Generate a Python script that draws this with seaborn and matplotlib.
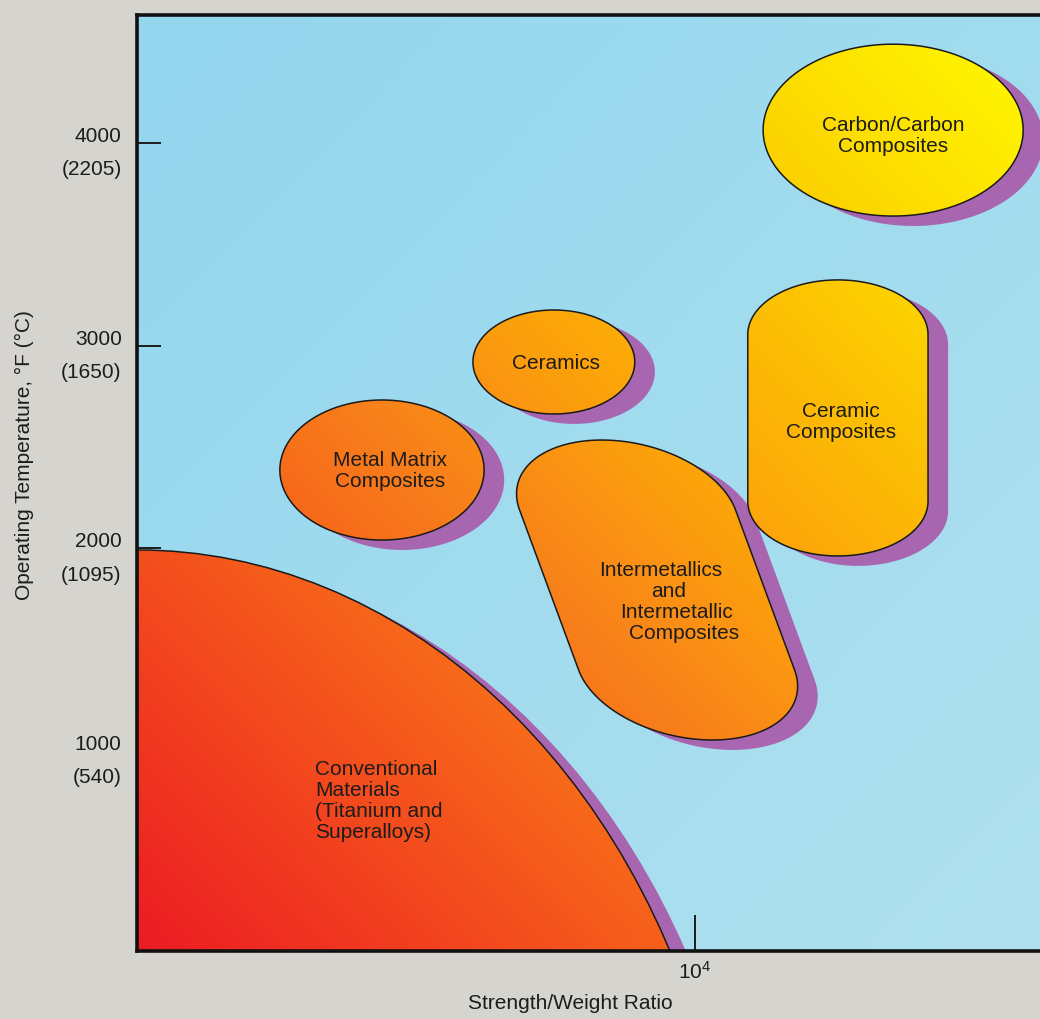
import numpy as np
import matplotlib
matplotlib.use("Agg")
import matplotlib.pyplot as plt
import seaborn as sns
from matplotlib.path import Path
from matplotlib.patches import PathPatch
from matplotlib.colors import LinearSegmentedColormap
from matplotlib.transforms import ScaledTranslation

# material regions; x = log10(strength/weight ratio), y = operating temperature in F
regions = ["Conventional", "Metal Matrix", "Ceramics", "Intermetallics",
           "Ceramic Composites", "Carbon/Carbon"]
x_center = [3.000, 3.439, 3.747, 3.932, 4.256, 4.355]
y_center = [-1708, 2386, 2919, 1794, 2643, 4063]
x_width = [2.158, 0.366, 0.290, 0.387, 0.323, 0.466]
y_height = [7400, 691, 513, 1480, 1362, 848]
end_cap = [3700, 345, 256, 345, 270, 424]      # height of the rounded ends (half height = ellipse)
lean = [0.0, 0.0, 0.0, -0.134, 0.0, 0.0]       # x shift (decades) per 1000 F

labels = ["Conventional\nMaterials\n(Titanium and\nSuperalloys)",
          "Metal Matrix\nComposites",
          "Ceramics",
          "Intermetallics\nand\nIntermetallic\nComposites",
          "Ceramic\nComposites",
          "Carbon/Carbon\nComposites"]
label_x = [3.319, 3.453, 3.751, 3.959, 4.262, 4.355]
label_y = [753, 2381, 2914, 1735, 2623, 4034]
label_ha = ["left", "center", "center", "center", "center", "center"]

temp_f = [1000, 2000, 3000, 4000]
temp_c = [540, 1095, 1650, 2205]
ratio_ticks = [4]

sns.set_theme(style="ticks")
plt.rcParams["font.family"] = ["Liberation Sans", "DejaVu Sans"]

fig = plt.figure(figsize=(10.4, 10.19), dpi=100, facecolor="#d6d4cf")
ax = fig.add_axes([137 / 1040, 68 / 1019, 923 / 1040, 936 / 1019])
xlim = (3.0, 4.654)
ylim = (13, 4631)

# light blue background, slightly paler toward lower right
u, v = np.meshgrid(np.linspace(0, 1, 200), np.linspace(0, 1, 200))
bg_cmap = LinearSegmentedColormap.from_list("bg", ["#93d6ef", "#b0e1ee"])
ax.imshow(0.5 * u + 0.5 * (1 - v), extent=(*xlim, *ylim), origin="lower", cmap=bg_cmap,
          aspect="auto", zorder=0, vmin=0, vmax=1)

# one red -> yellow gradient running from lower left to upper right
fill_cmap = LinearSegmentedColormap.from_list("fill", [
    (0.00, "#ec1c24"), (0.15, "#f23f1f"), (0.32, "#f7681a"), (0.42, "#f8821a"),
    (0.50, "#fb9612"), (0.55, "#fca20a"), (0.67, "#fdbc05"), (0.77, "#fcd200"),
    (0.93, "#fff200"), (1.00, "#fff500")])
grad = u + v


def region_path(cx, cy, w, h, cap, k):
    t = np.linspace(0, np.pi, 80)
    top_y = cy + h / 2 - cap
    bot_y = cy - h / 2 + cap
    xs = np.concatenate([cx + w / 2 * np.cos(t), cx + w / 2 * np.cos(t + np.pi)])
    ys = np.concatenate([top_y + cap * np.sin(t), bot_y + cap * np.sin(t + np.pi)])
    xs = xs + k / 1000 * (ys - cy)
    verts = np.column_stack([xs, ys])
    verts = np.vstack([verts, verts[:1]])
    return Path(verts, closed=True)


shadow_dx, shadow_dy = 0.036, -49
for i in range(len(regions)):
    p = region_path(x_center[i], y_center[i], x_width[i], y_height[i], end_cap[i], lean[i])
    shadow = PathPatch(Path(p.vertices + [shadow_dx, shadow_dy], p.codes),
                       facecolor="#a866b1", edgecolor="none", zorder=2 + i * 3)
    ax.add_patch(shadow)
    outline = PathPatch(p, facecolor="none", edgecolor="#1a1a1a", lw=1.1, zorder=4 + i * 3)
    ax.add_patch(outline)
    im = ax.imshow(grad, extent=(*xlim, *ylim), origin="lower", cmap=fill_cmap,
                   vmin=0, vmax=2, aspect="auto", zorder=3 + i * 3, interpolation="bilinear")
    im.set_clip_path(outline)

    lines = labels[i].split("\n")
    n = len(lines)
    for j, line in enumerate(lines):
        ly = label_y[i] - (j - (n - 1) / 2) * 104
        lx = label_x[i] + lean[i] / 1000 * (ly - label_y[i])
        ax.text(lx, ly, line, ha=label_ha[i], va="center", fontsize=15,
                color="#1c1c1c", zorder=30)

ax.set_xlim(*xlim)
ax.set_ylim(*ylim)
ax.set_yticks(temp_f)
ax.set_yticklabels([f"{f}\n({c})" for f, c in zip(temp_f, temp_c)], linespacing=1.95)
ax.set_xticks(ratio_ticks)
ax.set_xticklabels([r"$\mathregular{10^{%d}}$" % r for r in ratio_ticks])
ax.minorticks_off()
ax.tick_params(axis="y", direction="in", length=17, width=1.4, pad=11,
               labelsize=15, colors="#1c1c1c")
ax.tick_params(axis="x", direction="in", length=26, width=1.4, pad=7,
               labelsize=15, colors="#1c1c1c")
shift = ScaledTranslation(0, -0.01, fig.dpi_scale_trans)
for lab in ax.get_yticklabels():
    lab.set_transform(lab.get_transform() + shift)
for s in ax.spines.values():
    s.set_linewidth(2.6)
    s.set_color("#111111")
    s.set_zorder(40)

ax.set_xlabel("Strength/Weight Ratio", fontsize=15, color="#1c1c1c")
ax.set_ylabel("Operating Temperature, °F (°C)", fontsize=15, color="#1c1c1c")
ax.xaxis.set_label_coords(0.470, -0.046)
ax.yaxis.set_label_coords(-0.112, 0.53)

fig.savefig("out.png", dpi=100, facecolor=fig.get_facecolor())
